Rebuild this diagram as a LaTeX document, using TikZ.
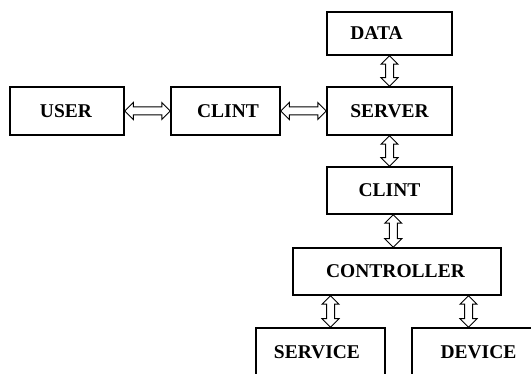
\documentclass[tikz,border=0pt]{standalone}
\usepackage{fontspec}
\setmainfont{Liberation Serif}
\usetikzlibrary{shapes,arrows,calc}

% text moved sideways inside its box
\newcommand{\shifted}[2]{\hspace{#1}#2\hspace{-#1}}

\begin{document}
\begin{tikzpicture}[x=1pt, y=-1pt,
  blk/.style={draw, line width=1.5pt, inner sep=0pt, minimum height=48pt, font=\bfseries\fontsize{19.5}{22}\selectfont},
  dbl/.style={double arrow, draw, line width=1pt, inner xsep=0pt, inner ysep=3.5pt, double arrow head extend=4.5pt}]
\useasboundingbox (0,0) rectangle (531,374);

\node[blk, minimum width=114pt] at (67,111) (user) {\shifted{-2pt}{USER}};
\node[blk, minimum width=109pt] at (225.5,111) (clint1) {\shifted{5pt}{CLINT}};
\node[blk, minimum width=125pt] at (389.5,111) (server) {SERVER};
\node[blk, minimum width=125pt, minimum height=43pt] at (389.5,33.5) (data) {\shifted{-26pt}{DATA}};
\node[blk, minimum width=125pt, minimum height=47pt] at (389.5,190.5) (clint2) {CLINT};
\node[blk, minimum width=208pt, minimum height=47pt] at (397,271.5) (ctrl) {\shifted{-3pt}{CONTROLLER}};
\node[blk, minimum width=129pt] at (320.5,352) (service) {\shifted{-7pt}{SERVICE}};
\node[blk, minimum width=133pt] at (478.5,352) (device) {DEVICE};

% horizontal links
\path let \p1=(user.east), \p2=(clint1.west), \n1={\x2-\x1} in
  node[dbl, minimum height=\n1] at ($(\p1)!.5!(\p2)$) (a1) {};
\path let \p1=(clint1.east), \p2=(server.west), \n1={\x2-\x1} in
  node[dbl, minimum height=\n1] at ($(\p1)!.5!(\p2)$) (a2) {};

% vertical links
\path let \p1=(data.south), \p2=(server.north), \n1={\y1-\y2} in
  node[dbl, rotate=90, minimum height=\n1] at ($(\p1)!.5!(\p2)$) (a3) {};
\path let \p1=(server.south), \p2=(clint2.north), \n1={\y1-\y2} in
  node[dbl, rotate=90, minimum height=\n1] at ($(\p1)!.5!(\p2)$) (a4) {};
\path let \p1=(clint2.south), \p2=(ctrl.north), \n1={\y1-\y2} in
  node[dbl, rotate=90, minimum height=\n1] at ($(\p1)!.5!(\p2)$) (a5) {};
\path let \p1=(ctrl.south), \p2=(service.north), \n1={\y1-\y2} in
  node[dbl, rotate=90, minimum height=\n1] at ($(\p2)+(10pt,\n1/2)$) (a6) {};
\path let \p1=(ctrl.south), \p2=(device.north), \n1={\y1-\y2} in
  node[dbl, rotate=90, minimum height=\n1] at ($(\p2)+(-10pt,\n1/2)$) (a7) {};
\end{tikzpicture}
\end{document}
